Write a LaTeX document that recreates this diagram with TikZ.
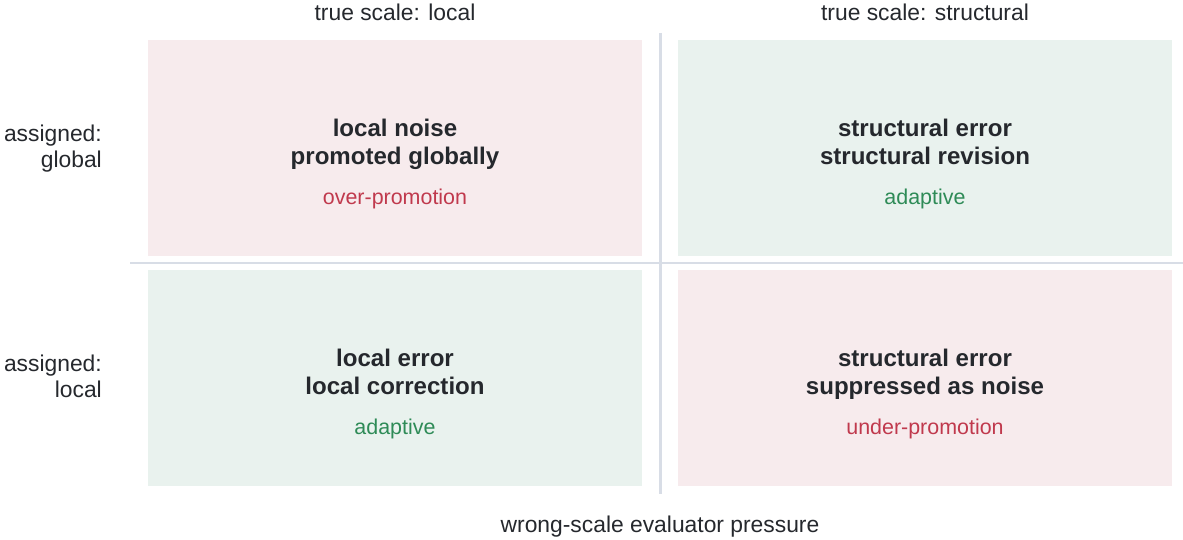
\documentclass[tikz,border=0pt]{standalone}
\usepackage{fontspec}
\setmainfont{Liberation Sans}
\usepackage{xcolor}

\definecolor{missfill}{HTML}{F7EBED}
\definecolor{hitfill}{HTML}{E9F2EE}
\definecolor{rulegray}{HTML}{D8DDE6}
\definecolor{inkdark}{HTML}{25282D}
\definecolor{missred}{HTML}{C0394D}
\definecolor{hitgreen}{HTML}{2E8B57}

\begin{document}
\begin{tikzpicture}[x=0.02cm, y=-0.02cm,
    cell/.style={minimum width=9.88cm, minimum height=4.32cm, inner sep=0pt},
    headline/.style={align=center, text=inkdark, font=\fontsize{13.7}{15.9}\selectfont\bfseries},
    verdict/.style={font=\fontsize{12.2}{14}\selectfont},
    axislabel/.style={text=inkdark, font=\fontsize{13}{14.8}\selectfont},
    divider/.style={draw=rulegray, line width=1.7pt}]
    \useasboundingbox (0,0) rectangle (1183,540);

    % quadrant backgrounds
    \node (gl) [cell, fill=missfill] at (395,148) {};
    \node (sg) [cell, fill=hitfill] at (925,148) {};
    \node (ll) [cell, fill=hitfill] at (395,378) {};
    \node (sl) [cell, fill=missfill] at (925,378) {};

    % dividers
    \draw[divider] (130,263) -- (1183,263);
    \draw[divider] (660,33) -- (660,494);

    % column and row headings (struts keep the lines level)
    \node (collocal) [axislabel] at (395,15) {true scale: local\strut};
    \node (colstruct) [axislabel] at (925,15) {true scale: structural\strut};
    \node (rowglobal) [axislabel, align=right, anchor=east] at (108,149.5) {assigned:\strut\\global\strut};
    \node (rowlocal) [axislabel, align=right, anchor=east] at (108,379.5) {assigned:\strut\\local\strut};
    \node (xaxis) [axislabel] at (660,527) {wrong-scale evaluator pressure\strut};

    % cell contents
    \node (gl-head) [headline] at (395,145) {local noise\strut\\promoted globally\strut};
    \node (gl-tag) [verdict, text=missred] at (395,200) {over-promotion\strut};
    \node (sg-head) [headline] at (925,145) {structural error\strut\\structural revision\strut};
    \node (sg-tag) [verdict, text=hitgreen] at (925,200) {adaptive\strut};
    \node (ll-head) [headline] at (395,375) {local error\strut\\local correction\strut};
    \node (ll-tag) [verdict, text=hitgreen] at (395,430) {adaptive\strut};
    \node (sl-head) [headline] at (925,375) {structural error\strut\\suppressed as noise\strut};
    \node (sl-tag) [verdict, text=missred] at (925,430) {under-promotion\strut};
\end{tikzpicture}
\end{document}
